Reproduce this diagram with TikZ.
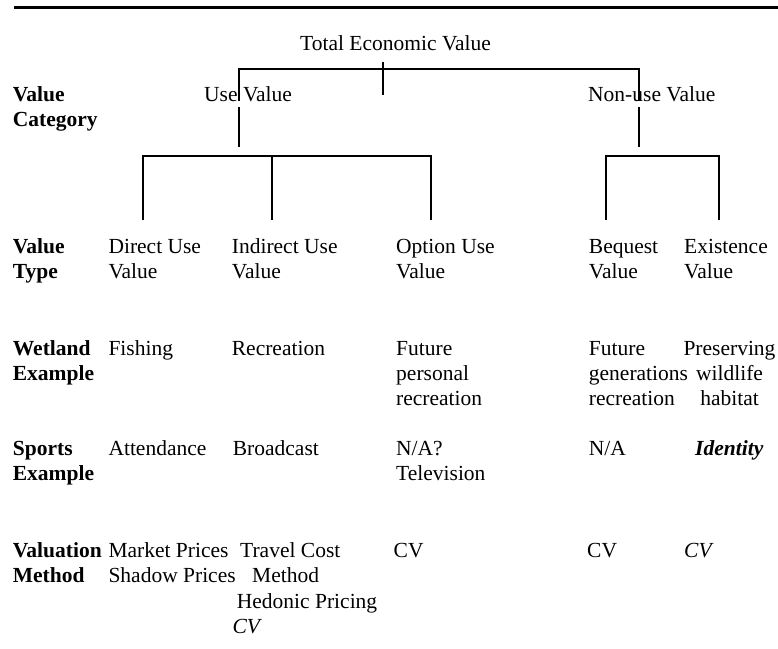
\documentclass[tikz,border=0pt]{standalone}
\usepackage{fontspec}
\setmainfont{Liberation Serif}
\begin{document}
\begin{tikzpicture}[x=1pt,y=-1pt,
  txt/.style={anchor=base west, inner sep=0pt, font=\fontsize{21.5}{25}\selectfont},
  hd/.style={anchor=base west, inner sep=0pt, font=\fontsize{21.5}{25}\selectfont\bfseries},
  it/.style={anchor=base west, inner sep=0pt, font=\fontsize{21.5}{25}\selectfont\itshape},
  bit/.style={anchor=base west, inner sep=0pt, font=\fontsize{21.5}{25}\selectfont\bfseries\itshape},
  ctr/.style={anchor=base, inner sep=0pt, font=\fontsize{21.5}{25}\selectfont},
  ln/.style={line width=1.9pt},
  rule/.style={line width=2.4pt}]
\useasboundingbox (0,0) rectangle (778,648);

% top rule
\coordinate (rl) at (14,7.5);
\coordinate (rr) at (778,7.5);
\draw[rule] (rl) -- (rr);

% row labels
\node[hd] (h1a) at (12.7,101) {Value};
\node[hd] (h1b) at (12.7,126) {Category};
\node[hd] (h2a) at (12.7,253.3) {Value};
\node[hd] (h2b) at (12.7,278.3) {Type};
\node[hd] (h3a) at (12.7,355) {Wetland};
\node[hd] (h3b) at (12.7,380) {Example};
\node[hd] (h4a) at (12.7,455) {Sports};
\node[hd] (h4b) at (12.7,480.5) {Example};
\node[hd] (h5a) at (12.7,557) {Valuation};
\node[hd] (h5b) at (12.7,582.5) {Method};

% tree text
\node[txt] (tev) at (300,50) {Total Economic Value};
\node[txt] (use) at (204,101) {Use Value};
\node[txt] (nonuse) at (588,101) {Non-use Value};

% tree lines, level 1
\coordinate (t0) at (382.7,62);
\coordinate (t1) at (382.7,95);
\coordinate (a0) at (238.7,101);
\coordinate (a1) at (238.7,69);
\coordinate (a2) at (638.7,69);
\coordinate (a3) at (638.7,101);
\coordinate (u0) at (238.7,107);
\coordinate (u1) at (238.7,146.7);
\coordinate (n0) at (638.7,107);
\coordinate (n1) at (638.7,146.7);
\draw[ln] (a0) -- (a1) -- (a2) -- (a3);
\draw[ln] (t0) -- (t1);
\draw[ln] (u0) -- (u1);
\draw[ln] (n0) -- (n1);

% tree lines, level 2
\coordinate (l0) at (142.7,220);
\coordinate (l1) at (142.7,155.7);
\coordinate (l2) at (431,155.7);
\coordinate (l3) at (431,220);
\coordinate (m0) at (272,155.7);
\coordinate (m1) at (272,220);
\draw[ln] (l0) -- (l1) -- (l2) -- (l3);
\draw[ln] (m0) -- (m1);
\coordinate (r0) at (606.3,220);
\coordinate (r1) at (606.3,155.7);
\coordinate (r2) at (718.7,155.7);
\coordinate (r3) at (718.7,220);
\draw[ln] (r0) -- (r1) -- (r2) -- (r3);

% value types
\node[txt] (dua) at (108.3,253.3) {Direct Use};
\node[txt] (dub) at (108.3,278.3) {Value};
\node[txt] (iua) at (231.7,253.3) {Indirect Use};
\node[txt] (iub) at (231.7,278.3) {Value};
\node[txt] (oua) at (396,253.3) {Option Use};
\node[txt] (oub) at (396,278.3) {Value};
\node[txt] (bqa) at (588.7,253.3) {Bequest};
\node[txt] (bqb) at (588.7,278.3) {Value};
\node[txt] (exa) at (684,253.3) {Existence};
\node[txt] (exb) at (684,278.3) {Value};

% wetland examples
\node[txt] (w1) at (108.3,355) {Fishing};
\node[txt] (w2) at (231.7,355) {Recreation};
\node[txt] (w3a) at (396,355) {Future};
\node[txt] (w3b) at (396,380) {personal};
\node[txt] (w3c) at (396,405) {recreation};
\node[txt] (w4a) at (588.7,355) {Future};
\node[txt] (w4b) at (588.7,380) {generations};
\node[txt] (w4c) at (588.7,405) {recreation};
\node[ctr] (w5a) at (729.5,355) {Preserving};
\node[ctr] (w5b) at (729.5,380) {wildlife};
\node[ctr] (w5c) at (729.5,405) {habitat};

% sports examples
\node[txt] (s1) at (108.3,455) {Attendance};
\node[txt] (s2) at (232.7,455) {Broadcast};
\node[txt] (s3a) at (396,455) {N/A?};
\node[txt] (s3b) at (396,480.5) {Television};
\node[txt] (s4) at (588.7,455) {N/A};
\node[bit] (s5) at (695,455) {Identity};

% valuation methods
\node[txt] (v1a) at (108.3,557) {Market Prices};
\node[txt] (v1b) at (108.3,582.5) {Shadow Prices};
\node[txt] (v2a) at (240,557) {Travel Cost};
\node[txt] (v2b) at (252,582.5) {Method};
\node[txt] (v2c) at (236.7,608) {Hedonic Pricing};
\node[it] (v2d) at (232.3,633.3) {CV};
\node[txt] (v3) at (393.5,557) {CV};
\node[txt] (v4) at (587,557) {CV};
\node[it] (v5) at (684,557) {CV};
\end{tikzpicture}
\end{document}
